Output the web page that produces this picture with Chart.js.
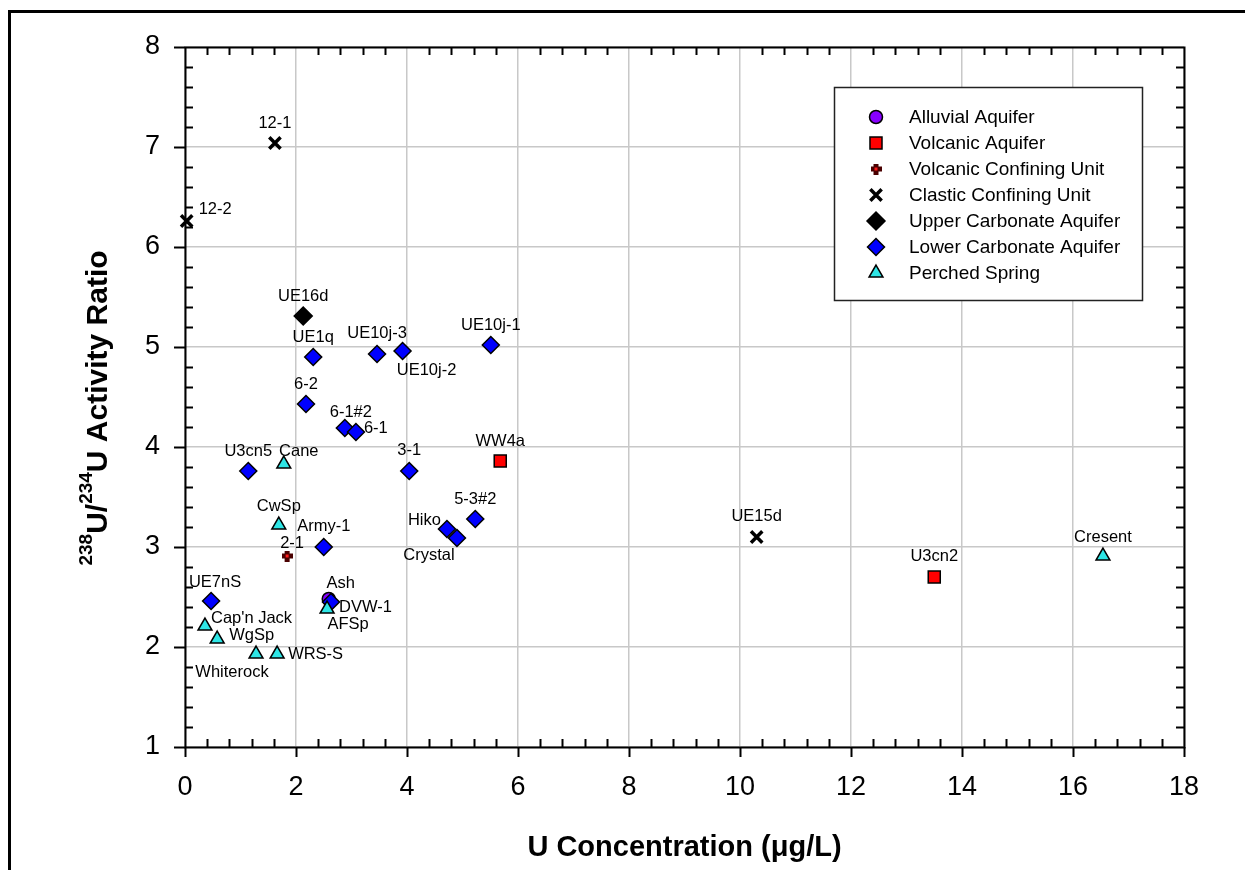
<!DOCTYPE html>
<html>
<head>
<meta charset="utf-8">
<title>U activity ratio vs U concentration</title>
<script src="https://cdn.jsdelivr.net/npm/chart.js@4.4.1/dist/chart.umd.min.js"></script>
<style>
  html, body { margin: 0; padding: 0; background: #fff; overflow: hidden; }
  #wrap { position: relative; width: 1245px; height: 870px; overflow: hidden; }
  #chart { position: absolute; left: 0; top: 0; }
  #frame { position: absolute; left: 8px; top: 10px; width: 1300px; height: 900px;
           border: 3px solid #000; box-sizing: border-box; pointer-events: none; }
</style>
</head>
<body>
<div id="wrap">
  <canvas id="chart" width="1245" height="870"></canvas>
  <div id="frame"></div>
</div>
<script>
/* ---- Data: U concentration (ug/L) vs 238U/234U activity ratio ---- */
const xTickValues = [0, 2, 4, 6, 8, 10, 12, 14, 16, 18];
const yTickValues = [1, 2, 3, 4, 5, 6, 7, 8];

const alluvialNames = ['Ash'];
const alluvialU = [2.59];
const alluvialRatio = [2.48];

const volcanicNames = ['WW4a', 'U3cn2'];
const volcanicU = [5.68, 13.5];
const volcanicRatio = [3.86, 2.70];

const vcuNames = ['2-1'];
const vcuU = [1.84];
const vcuRatio = [2.91];

const clasticNames = ['12-1', '12-2', 'UE15d'];
const clasticU = [1.62, 0.03, 10.3];
const clasticRatio = [7.04, 6.26, 3.10];

const upperCarbNames = ['UE16d'];
const upperCarbU = [2.13];
const upperCarbRatio = [5.31];

const lowerCarbNames = ['UE1q', 'UE10j-3', 'UE10j-2', 'UE10j-1', '6-2', '6-1#2', '6-1', 'U3cn5',
  '3-1', '5-3#2', 'Hiko', 'Crystal', 'Army-1', 'UE7nS', 'DVW-1'];
const lowerCarbU = [2.31, 3.46, 3.92, 5.51, 2.18, 2.88, 3.08, 1.14, 4.04, 5.23, 4.72, 4.90, 2.50, 0.47, 2.63];
const lowerCarbRatio = [4.90, 4.93, 4.96, 5.02, 4.43, 4.19, 4.15, 3.76, 3.76, 3.28, 3.18, 3.09, 3.00, 2.46, 2.45];

const perchedNames = ['Cane', 'CwSp', "Cap'n Jack", 'WgSp', 'Whiterock', 'WRS-S', 'AFSp', 'Cresent'];
const perchedU = [1.78, 1.69, 0.36, 0.58, 1.28, 1.66, 2.56, 16.54];
const perchedRatio = [3.83, 3.22, 2.21, 2.08, 1.93, 1.93, 2.38, 2.91];

/* label placement next to each well marker: [dx, dy, align] in px */
const labelOffsets = {
  '12-1': [0, -20], '12-2': [12, -12, 'left'], 'UE15d': [0, -21],
  'UE16d': [0, -20], 'UE1q': [0, -20], 'UE10j-3': [0, -21], 'UE10j-2': [24, 19],
  'UE10j-1': [0, -20], '6-2': [0, -20], '6-1#2': [6, -16], '6-1': [8, -4, 'left'],
  'U3cn5': [0, -20], '3-1': [0, -21], '5-3#2': [0, -20], 'Hiko': [-6, -9, 'right'],
  'Crystal': [-28, 17], 'Army-1': [0, -21], 'UE7nS': [4, -19], 'DVW-1': [8, 5, 'left'],
  'Cane': [15, -13], 'CwSp': [0, -19], "Cap'n Jack": [6, -8, 'left'], 'WgSp': [12, -4, 'left'],
  'Whiterock': [-24, 18], 'WRS-S': [11, 0, 'left'], 'AFSp': [21, 15], 'Cresent': [0, -19],
  'WW4a': [0, -20], 'U3cn2': [0, -21], '2-1': [5, -13], 'Ash': [12, -16],
};

const FONT = "'Liberation Sans', Arial, sans-serif";

/* small filled plus used for the volcanic confining unit */
function plusMarker() {
  const c = document.createElement('canvas');
  c.width = 11; c.height = 11;
  const g = c.getContext('2d');
  g.fillStyle = '#4a0000';
  g.fillRect(3, 0, 5, 11);
  g.fillRect(0, 3, 11, 5);
  g.fillStyle = '#ff1a1a';
  g.fillRect(4, 4, 3, 3);
  return c;
}

const pts = (xs, ys) => xs.map((v, i) => ({ x: v, y: ys[i] }));

function series(label, names, xs, ys, style) {
  return Object.assign({
    label,
    names,
    data: pts(xs, ys),
    showLine: false,
    clip: false,
    pointBorderColor: '#000',
    pointBorderWidth: 1.5,
  }, style);
}

const datasets = [
  series('Alluvial Aquifer', alluvialNames, alluvialU, alluvialRatio,
    { pointStyle: 'circle', pointRadius: 6.5, pointBackgroundColor: '#8800ff', order: 6 }),
  series('Volcanic Aquifer', volcanicNames, volcanicU, volcanicRatio,
    { pointStyle: 'rect', pointRadius: 8.5, pointBackgroundColor: '#ff0000', order: 5 }),
  series('Volcanic Confining Unit', vcuNames, vcuU, vcuRatio,
    { pointStyle: plusMarker(), pointRadius: 6, order: 4 }),
  series('Clastic Confining Unit', clasticNames, clasticU, clasticRatio,
    { pointStyle: 'crossRot', pointRadius: 8, pointBorderWidth: 3.5, order: 3 }),
  series('Upper Carbonate Aquifer', upperCarbNames, upperCarbU, upperCarbRatio,
    { pointStyle: 'rectRot', pointRadius: 9, pointBackgroundColor: '#000', order: 2 }),
  series('Lower Carbonate Aquifer', lowerCarbNames, lowerCarbU, lowerCarbRatio,
    { pointStyle: 'rectRot', pointRadius: 8.5, pointBackgroundColor: '#0000ff', order: 1 }),
  series('Perched Spring', perchedNames, perchedU, perchedRatio,
    { pointStyle: 'triangle', pointRadius: 8, pointBackgroundColor: '#2ee6e6', order: 0 }),
];

function drawMarker(ctx, ds, x, y) {
  ctx.save();
  ctx.fillStyle = ds.pointBackgroundColor || '#000';
  ctx.strokeStyle = ds.pointBorderColor;
  ctx.lineWidth = ds.pointBorderWidth;
  Chart.helpers.drawPoint(ctx, {
    pointStyle: ds.pointStyle, radius: ds.pointRadius, rotation: 0, borderWidth: ds.pointBorderWidth,
  }, x, y);
  ctx.restore();
}

/* ---- axes frame, inward minor ticks, outward major ticks ---- */
const frameTicks = {
  id: 'frameTicks',
  beforeDatasetsDraw(chart) {
    const { ctx, chartArea: a, scales: { x, y } } = chart;
    ctx.save();
    ctx.strokeStyle = '#000';
    ctx.lineWidth = 2;
    ctx.beginPath();
    for (let i = 0; i <= 45; i++) {
      if (i % 5 === 0) continue;
      const px = Math.round(x.getPixelForValue(i * 0.4)) + 0.5;
      ctx.moveTo(px, a.bottom); ctx.lineTo(px, a.bottom - 8);
      ctx.moveTo(px, a.top); ctx.lineTo(px, a.top + 8);
    }
    for (let i = 0; i <= 35; i++) {
      if (i % 5 === 0) continue;
      const py = Math.round(y.getPixelForValue(1 + i * 0.2)) + 0.5;
      ctx.moveTo(a.left, py); ctx.lineTo(a.left + 8, py);
      ctx.moveTo(a.right, py); ctx.lineTo(a.right - 8, py);
    }
    xTickValues.forEach((v) => {
      const px = Math.round(x.getPixelForValue(v)) + 0.5;
      ctx.moveTo(px, a.bottom); ctx.lineTo(px, a.bottom + 10);
    });
    yTickValues.forEach((v) => {
      const py = Math.round(y.getPixelForValue(v)) + 0.5;
      ctx.moveTo(a.left, py); ctx.lineTo(a.left - 11, py);
    });
    ctx.stroke();
    ctx.strokeRect(Math.round(a.left) + 0.5, Math.round(a.top) + 0.5,
      Math.round(a.right - a.left), Math.round(a.bottom - a.top));
    ctx.restore();
  },
  afterDraw(chart) {
    const { ctx, chartArea: a } = chart;
    ctx.save();

    /* well names */
    ctx.fillStyle = '#000';
    ctx.font = `16.5px ${FONT}`;
    ctx.textBaseline = 'middle';
    chart.data.datasets.forEach((ds, di) => {
      const meta = chart.getDatasetMeta(di);
      ds.names.forEach((name, i) => {
        const el = meta.data[i];
        const [dx, dy, align] = labelOffsets[name] || [0, -20];
        ctx.textAlign = align || 'center';
        ctx.fillText(name, el.x + dx, el.y + dy);
      });
    });

    /* legend box */
    const lx = 834, ly = 87, lw = 308, lh = 213;
    ctx.fillStyle = '#fff';
    ctx.fillRect(lx, ly, lw, lh);
    ctx.strokeStyle = '#222';
    ctx.lineWidth = 1.5;
    ctx.strokeRect(lx + 0.5, ly + 0.5, lw, lh);
    ctx.font = `19px ${FONT}`;
    ctx.textAlign = 'left';
    ctx.textBaseline = 'middle';
    chart.data.datasets.forEach((ds, i) => {
      const ry = ly + 30 + i * 26;
      drawMarker(ctx, ds, lx + 42, ry);
      ctx.fillStyle = '#000';
      ctx.fillText(ds.label, lx + 75, ry + 1);
    });

    /* x axis title */
    ctx.font = `bold 29px ${FONT}`;
    ctx.textAlign = 'center';
    ctx.textBaseline = 'alphabetic';
    ctx.fillText('U Concentration (\u03bcg/L)', (a.left + a.right) / 2, 856);

    /* y axis title with superscript isotope masses */
    const parts = [
      { t: '238', sup: true }, { t: 'U/' }, { t: '234', sup: true }, { t: 'U Activity Ratio' },
    ];
    const big = `bold 30px ${FONT}`, small = `bold 19px ${FONT}`;
    let total = 0;
    parts.forEach((p) => { ctx.font = p.sup ? small : big; p.w = ctx.measureText(p.t).width; total += p.w; });
    ctx.translate(107, 408);
    ctx.rotate(-Math.PI / 2);
    ctx.textAlign = 'left';
    let cx = -total / 2;
    parts.forEach((p) => {
      ctx.font = p.sup ? small : big;
      ctx.fillText(p.t, cx, p.sup ? -15 : 0);
      cx += p.w;
    });
    ctx.restore();
  },
};

const tickFont = { family: FONT, size: 27 };

new Chart(document.getElementById('chart'), {
  type: 'scatter',
  data: { datasets },
  options: {
    responsive: false,
    animation: false,
    events: [],
    layout: { padding: { top: 47, right: 61, bottom: 0, left: 0 } },
    plugins: { legend: { display: false }, tooltip: { enabled: false } },
    scales: {
      x: {
        type: 'linear', min: 0, max: 18,
        afterBuildTicks: (s) => { s.ticks = xTickValues.map((v) => ({ value: v })); },
        afterFit: (s) => { s.height = 123; },
        grid: { color: '#c8c8c8', lineWidth: 1.5, drawTicks: false },
        border: { display: false },
        ticks: { font: tickFont, color: '#000', padding: 24, maxRotation: 0, autoSkip: false },
      },
      y: {
        type: 'linear', min: 1, max: 8,
        afterBuildTicks: (s) => { s.ticks = yTickValues.map((v) => ({ value: v })); },
        afterFit: (s) => { s.width = 185; },
        grid: { color: '#c8c8c8', lineWidth: 1.5, drawTicks: false },
        border: { display: false },
        ticks: { font: tickFont, color: '#000', padding: 25, autoSkip: false },
      },
    },
  },
  plugins: [frameTicks],
});
</script>
</body>
</html>
